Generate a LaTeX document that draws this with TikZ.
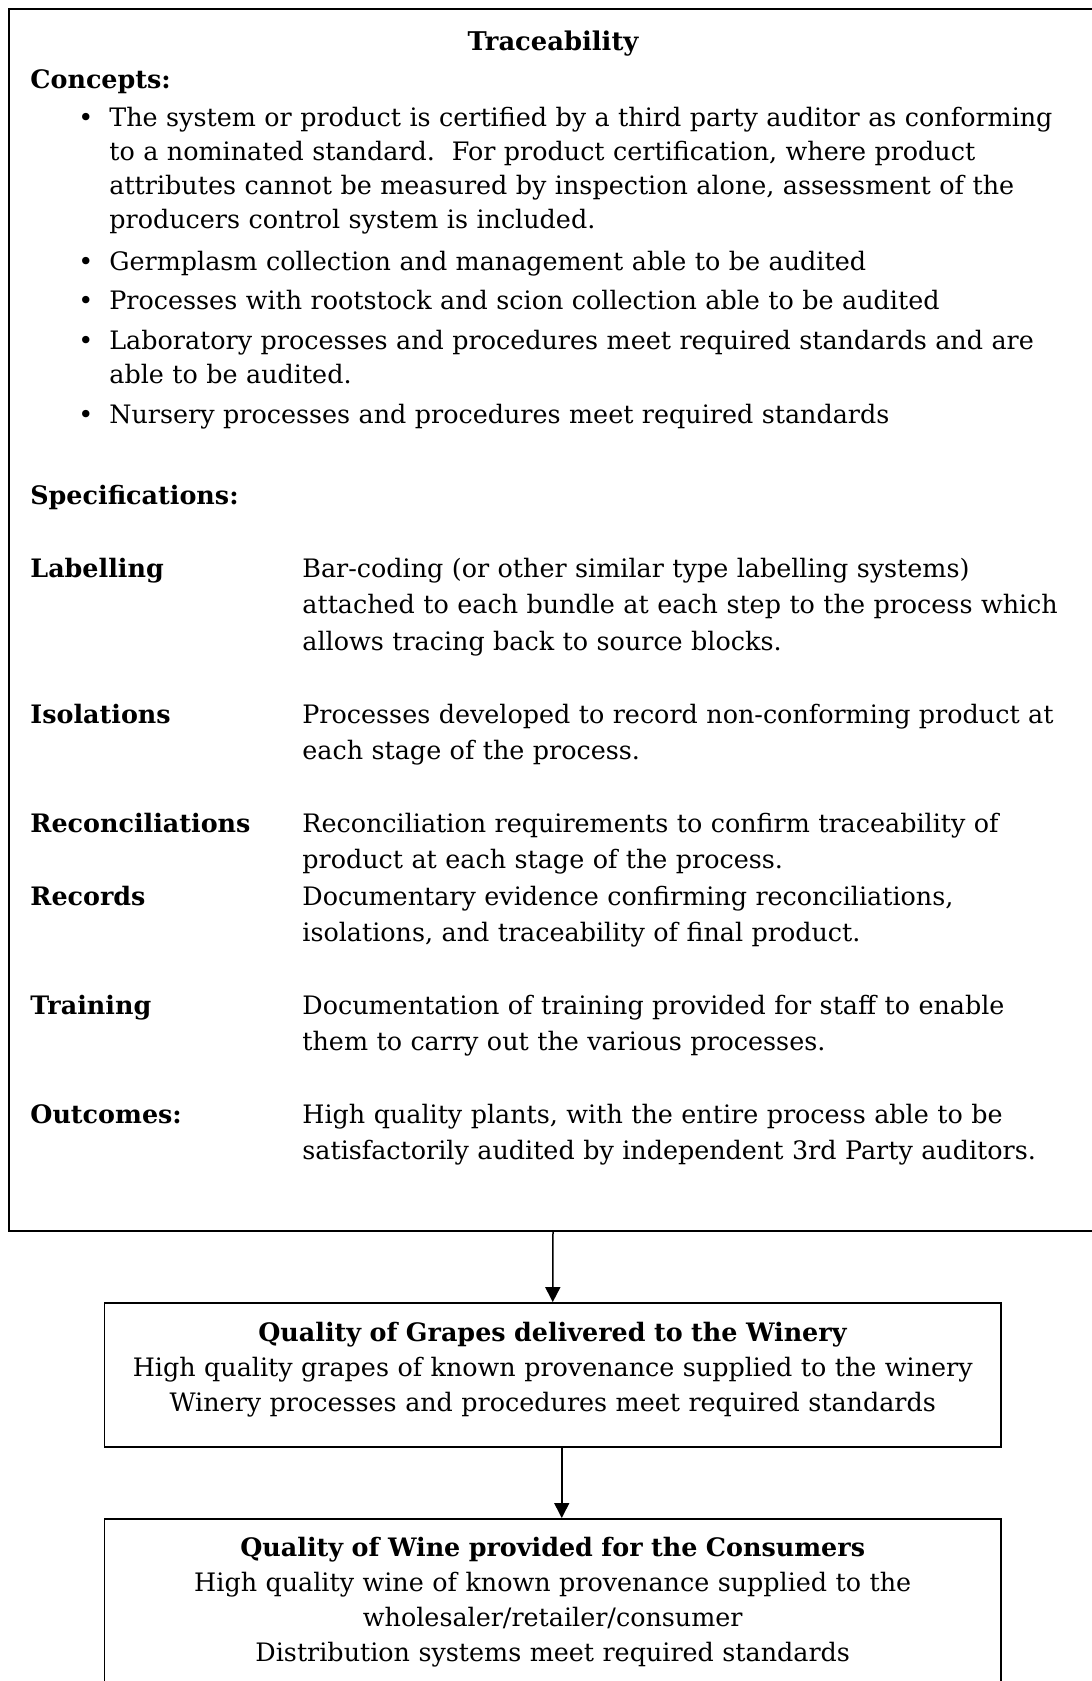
\documentclass[tikz,border=0pt]{standalone}
\usepackage{fontspec}
\setmainfont{DejaVu Serif}
\usepackage{tikz}
\usetikzlibrary{arrows.meta,positioning}
\frenchspacing

\begin{document}
\begin{tikzpicture}[
    x=0.5pt, y=-0.5pt,
    frame/.style={rectangle, draw, line width=0.9pt, inner sep=0pt},
    head/.style={anchor=base west, inner sep=0pt, font=\bfseries\fontsize{12.7}{15}\selectfont},
    title/.style={anchor=base, inner sep=0pt, font=\bfseries\fontsize{12.9}{15}\selectfont},
    item/.style={anchor=base west, inner sep=0pt, align=left, text width=490pt, font=\fontsize{12.7}{17.15}\selectfont},
    spec/.style={anchor=base west, inner sep=0pt, align=left, text width=390pt, font=\fontsize{12.7}{18.25}\selectfont},
    boxtext/.style={anchor=base, inner sep=0pt, align=center, text width=440pt, font=\fontsize{12.7}{17.5}\selectfont},
    flow/.style={-{Triangle[length=7.5pt,width=7.5pt]}, line width=0.75pt}
]
\useasboundingbox (0,0) rectangle (1092,1681);

% Traceability frame (top)
\node[frame, minimum width=544pt, minimum height=611pt] (trace) at (553,620) {};
\node[title] (tracetitle) at (553,50) {Traceability};

% Concepts
\node[head] (concepts) at (30,88) {Concepts:};
\node[item] (conc1) at (109,126) {\llap{\textbullet\hspace{8pt}}The system or product is certified by a third party auditor as conforming\\
    to a nominated standard.~ For product certification, where product\\
    attributes cannot be measured by inspection alone, assessment of the\\
    producers control system is included.};
\node[item] (conc2) at (109,270) {\llap{\textbullet\hspace{8pt}}Germplasm collection and management able to be audited};
\node[item] (conc3) at (109,309.5) {\llap{\textbullet\hspace{8pt}}Processes with rootstock and scion collection able to be audited};
\node[item] (conc4) at (109,349) {\llap{\textbullet\hspace{8pt}}Laboratory processes and procedures meet required standards and are\\
    able to be audited.};
\node[item] (conc5) at (109,423) {\llap{\textbullet\hspace{8pt}}Nursery processes and procedures meet required standards};

% Specifications
\node[head] (specs) at (30,504) {Specifications:};

\node[head] (labelling) at (30,577) {Labelling};
\node[spec] (labtext) at (302,577) {Bar-coding (or other similar type labelling systems)\\
    attached to each bundle at each step to the process which\\
    allows tracing back to source blocks.};

\node[head] (isolations) at (30,723) {Isolations};
\node[spec] (isotext) at (302,723) {Processes developed to record non-conforming product at\\
    each stage of the process.};

\node[head] (reconcil) at (30,832) {Reconciliations};
\node[spec] (rectext) at (302,832) {Reconciliation requirements to confirm traceability of\\
    product at each stage of the process.};

\node[head] (records) at (30,905) {Records};
\node[spec] (recordtext) at (302,905) {Documentary evidence confirming reconciliations,\\
    isolations, and traceability of final product.};

\node[head] (training) at (30,1014) {Training};
\node[spec] (traintext) at (302,1014) {Documentation of training provided for staff to enable\\
    them to carry out the various processes.};

\node[head] (outcomes) at (30,1123) {Outcomes:};
\node[spec] (outtext) at (302,1123) {High quality plants, with the entire process able to be\\
    satisfactorily audited by independent 3rd Party auditors.};

% Grapes box (middle)
\node[frame, minimum width=448.25pt, minimum height=72pt] (grape) at (552.75,1375) {};
\node[boxtext] (grapetext) at (552.75,1341) {\textbf{Quality of Grapes delivered to the Winery}\\
    High quality grapes of known provenance supplied to the winery\\
    Winery processes and procedures meet required standards};

% Wine box (bottom)
\node[frame, anchor=north, minimum width=448.25pt, minimum height=120pt] (wine) at (552.75,1518) {};
\node[boxtext] (winetext) at (552.75,1556) {\textbf{Quality of Wine provided for the Consumers}\\
    High quality wine of known provenance supplied to the\\
    wholesaler/retailer/consumer\\
    Distribution systems meet required standards};

% Arrows
\draw[flow] (trace.south) -- (grape.north);
\draw[flow] ([xshift=4.5pt]grape.south) -- ([xshift=4.5pt]wine.north);

\end{tikzpicture}
\end{document}
